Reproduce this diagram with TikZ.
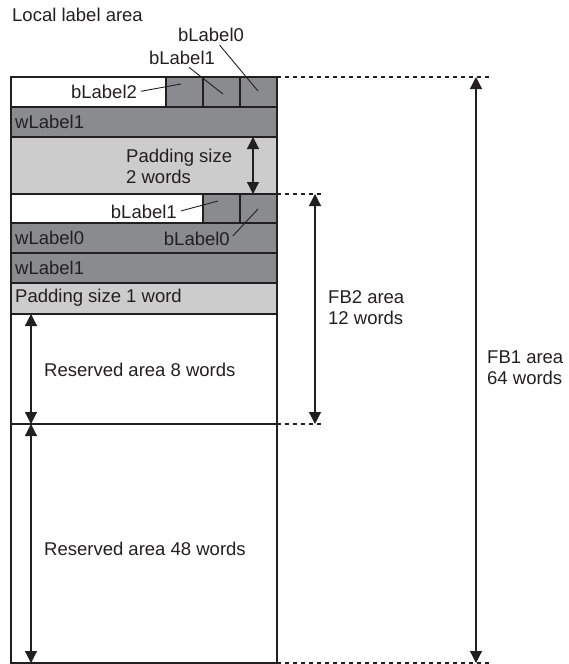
\documentclass[tikz,border=0pt]{standalone}
\usepackage{fontspec}
\setmainfont{Liberation Sans}
\usetikzlibrary{arrows.meta}
\usetikzlibrary{positioning}
\definecolor{darkcell}{RGB}{138,139,142}
\definecolor{lightcell}{RGB}{204,204,204}
\definecolor{ink}{RGB}{35,31,32}
\tikzstyle{cell} = [draw=ink, line width=1.5pt, anchor=north west,
    inner sep=0pt, outer sep=0pt]
\tikzstyle{txt} = [font=\fontsize{18.5}{21}\selectfont, text=ink, inner sep=0pt]
\tikzstyle{dim} = [draw=ink, line width=1.2pt,
    {Triangle[width=12pt,length=12pt]}-{Triangle[width=12pt,length=12pt]}]
\tikzstyle{lead} = [draw=ink, line width=0.9pt, shorten <=4pt]
\tikzstyle{guide} = [draw=ink, line width=1.1pt, dash pattern=on 4pt off 4pt]

\begin{document}
\begin{tikzpicture}[x=1pt, y=-1pt]
  \useasboundingbox (0,0) rectangle (568,664);
  % Cells of the label area
  \node [cell, minimum width=155pt, minimum height=30pt] (b2w) at (11,77) {};
  \node [cell, fill=darkcell, minimum width=37pt, minimum height=30pt] (b2) at (166,77) {};
  \node [cell, fill=darkcell, minimum width=37pt, minimum height=30pt] (b1) at (203,77) {};
  \node [cell, fill=darkcell, minimum width=37pt, minimum height=30pt] (b0) at (240,77) {};
  \node [cell, fill=darkcell, minimum width=266pt, minimum height=30pt] (wa) at (11,107) {};
  \node [cell, fill=lightcell, minimum width=266pt, minimum height=57pt] (pad2) at (11,137) {};
  \node [cell, minimum width=192pt, minimum height=29pt] (c1w) at (11,194) {};
  \node [cell, fill=darkcell, minimum width=37pt, minimum height=29pt] (c1) at (203,194) {};
  \node [cell, fill=darkcell, minimum width=37pt, minimum height=29pt] (c0) at (240,194) {};
  \node [cell, fill=darkcell, minimum width=266pt, minimum height=30pt] (w0) at (11,223) {};
  \node [cell, fill=darkcell, minimum width=266pt, minimum height=30pt] (wb) at (11,253) {};
  \node [cell, fill=lightcell, minimum width=266pt, minimum height=31pt] (pad1) at (11,283) {};
  \node [cell, minimum width=266pt, minimum height=110pt] (res8) at (11,314) {};
  \node [cell, minimum width=266pt, minimum height=239pt] (res48) at (11,424) {};

  % Texts
  \node [txt, anchor=west] (title) at (12,15) {Local label area};
  \node [txt] (tb0) at (211,35) {bLabel0};
  \node [txt] (tb1) at (182,58) {bLabel1};
  \node [txt] (tb2) at (104,92) {bLabel2};
  \node [txt, anchor=west] (twa) at (15,122) {wLabel1};
  \node [txt, anchor=west, align=left] (tpad2) at (126,166) {Padding size\\2 words};
  \node [txt, anchor=east] (tc1) at (177,212) {bLabel1};
  \node [txt, anchor=east] (tc0) at (230,239) {bLabel0};
  \node [txt, anchor=west] (tw0) at (15,238) {wLabel0};
  \node [txt, anchor=west] (twb) at (15,268) {wLabel1};
  \node [txt, anchor=west] (tpad1) at (15,298) {Padding size 1 word};
  \node [txt, anchor=west] (tres8) at (44,370) {Reserved area 8 words};
  \node [txt, anchor=west] (tres48) at (44,549) {Reserved area 48 words};
  \node [txt, anchor=west, align=left] (tfb2) at (328,308) {FB2 area\\12 words};
  \node [txt, anchor=west, align=left] (tfb1) at (487,368) {FB1 area\\64 words};

  % Leader lines
  \coordinate (pb2) at (181,84);
  \coordinate (pb1) at (223,94);
  \coordinate (pb0) at (258,91);
  \coordinate (pc1) at (218,201);
  \coordinate (pc0) at (258,209);
  \path [lead] (tb2.east) -- (pb2);
  \path [lead] (tb1.south) ++(4,0) -- (pb1);
  \path [lead] (tb0.south) ++(6,0) -- (pb0);
  \path [lead] (tc1.east) -- (pc1);
  \path [lead] (tc0.east) -- (pc0);

  % Guide lines
  \coordinate (g1) at (492,77);
  \coordinate (g2) at (323,194);
  \coordinate (g3) at (323,424);
  \coordinate (g4) at (492,663);
  \path [guide] (b0.north east) -- (g1);
  \path [guide] (c0.north east) -- (g2);
  \path [guide] (res48.north east) -- (g3);
  \path [guide] (res48.south east) -- (g4);

  % Size arrows
  \coordinate (a1) at (253,137);
  \coordinate (a2) at (253,194);
  \path [dim] (a1) -- (a2);
  \coordinate (r1) at (31,314);
  \coordinate (r2) at (31,424);
  \coordinate (r3) at (31,663);
  \path [dim] (r1) -- (r2);
  \path [dim] (r2) -- (r3);
  \coordinate (f21) at (315,194);
  \coordinate (f22) at (315,424);
  \path [dim] (f21) -- (f22);
  \coordinate (f11) at (476,77);
  \coordinate (f12) at (476,663);
  \path [dim] (f11) -- (f12);
\end{tikzpicture}
\end{document}
